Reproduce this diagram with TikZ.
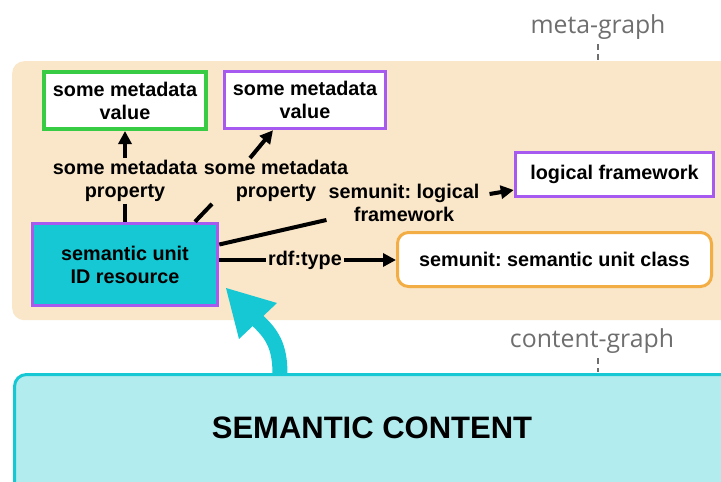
\documentclass[tikz,border=0pt]{standalone}
\usepackage{fontspec}
\setmainfont{Liberation Sans}
\newfontfamily\graphfont{Open Sans}
\usetikzlibrary{arrows.meta}
\frenchspacing
\definecolor{metabg}{HTML}{FAE6C8}
\definecolor{greenc}{HTML}{38CC44}
\definecolor{purplec}{HTML}{A65AF0}
\definecolor{cyanc}{HTML}{16C8D4}
\definecolor{orangec}{HTML}{F2AE45}
\definecolor{contentbg}{HTML}{B3ECEF}
\definecolor{grayc}{HTML}{6E6E6E}
\begin{document}
\frenchspacing
\begin{tikzpicture}[x=1pt,y=-1pt,
  txt/.style={font=\frenchspacing\bfseries\fontsize{19.8}{23}\selectfont},
  box/.style={txt, draw, line width=3.5pt, fill=white, align=center, inner sep=0pt},
  lab/.style={txt, align=center, inner sep=2pt},
  conn/.style={line width=4pt, black},
  arr/.style={conn, -{Triangle[length=13pt,width=13pt]}},
  graphlab/.style={font=\graphfont\fontsize{24.8}{28}\selectfont, text=grayc, inner sep=0pt},
  tick/.style={draw=grayc, line width=1.5pt, dash pattern=on 6pt off 4pt},
]
\useasboundingbox (0,0) rectangle (721,482);

% backgrounds
\node[fill=metabg, rounded corners=12pt, minimum width=740pt, minimum height=259pt,
      anchor=north west, inner sep=0pt] (meta) at (12,61) {};
\node[fill=contentbg, draw=cyanc, line width=3pt, rounded corners=12pt,
      minimum width=740pt, minimum height=140pt, anchor=north west, inner sep=0pt] (content) at (13,373) {};

% graph labels
\node[graphlab] (mg) at (598,27) {meta-graph};
\coordinate (mgtick1) at (598,44);
\coordinate (mgtick2) at (598,60);
\draw[tick] (mgtick1) -- (mgtick2);
\node[graphlab] (cg) at (592,341) {content-graph};
\coordinate (cgtick1) at (598,358);
\coordinate (cgtick2) at (598,372);
\draw[tick] (cgtick1) -- (cgtick2);

% boxes
\node[box, draw=greenc, line width=4pt, minimum width=162pt, minimum height=57pt] (v1) at (125,100.5) {some metadata\\value};
\node[box, draw=purplec, minimum width=161pt, minimum height=57pt] (v2) at (305,100) {some metadata\\value};
\node[box, draw=purplec, minimum width=198pt, minimum height=44pt] (lf) at (614.5,174.5) {logical framework};
\node[box, draw=purplec, fill=cyanc, minimum width=185pt, minimum height=82pt] (su) at (125,264.5) {semantic unit\\ID resource};
\node[box, draw=orangec, line width=3pt, rounded corners=11pt, minimum width=314pt, minimum height=54pt] (cls) at (554.5,259.5) {semunit: semantic unit class};

% labels
\node[lab] (l1) at (125,181) {some metadata\\property};
\node[lab] (l2) at (276,181) {some metadata\\property};
\node[lab] (l3) at (404,203) {semunit: logical\\framework};
\node[lab] (rdf) at (305,260) {rdf:type};

% connectors
\draw[conn] (l1) -- (su);
\draw[arr] (l1) -- (v1);
\draw[conn] ([xshift=-64pt]l2.south) -- ([xshift=70pt]su.north);
\draw[arr] ([xshift=-26pt]l2.north) -- ([xshift=-32pt]v2.south);
\draw[conn] ([yshift=20pt]su.east) -- ([yshift=4pt]l3.south west);
\draw[arr] ([xshift=8pt,yshift=9pt]l3.east) -- ([yshift=-15.5pt]lf.west);
\draw[conn] (su.east |- rdf.west) -- (rdf.west);
\draw[arr] (rdf.east) -- (cls.west |- rdf.east);

% semantic content
\node[font=\bfseries\fontsize{31}{36}\selectfont, inner sep=0pt] (ctext) at (372,428) {SEMANTIC CONTENT};

% big curved arrow from content to semantic unit
\coordinate (sstart) at (280,374);
\coordinate (sbase) at (257,320);
\coordinate (stip) at (226,288);
\coordinate (sw1) at (277,303);
\coordinate (sw2) at (239,339);
\draw[cyanc, line width=15pt] (sstart) .. controls (280,346) and (272,334) .. (sbase);
\fill[cyanc] (stip) -- (sw1) -- (sw2) -- cycle;
\end{tikzpicture}
\end{document}
